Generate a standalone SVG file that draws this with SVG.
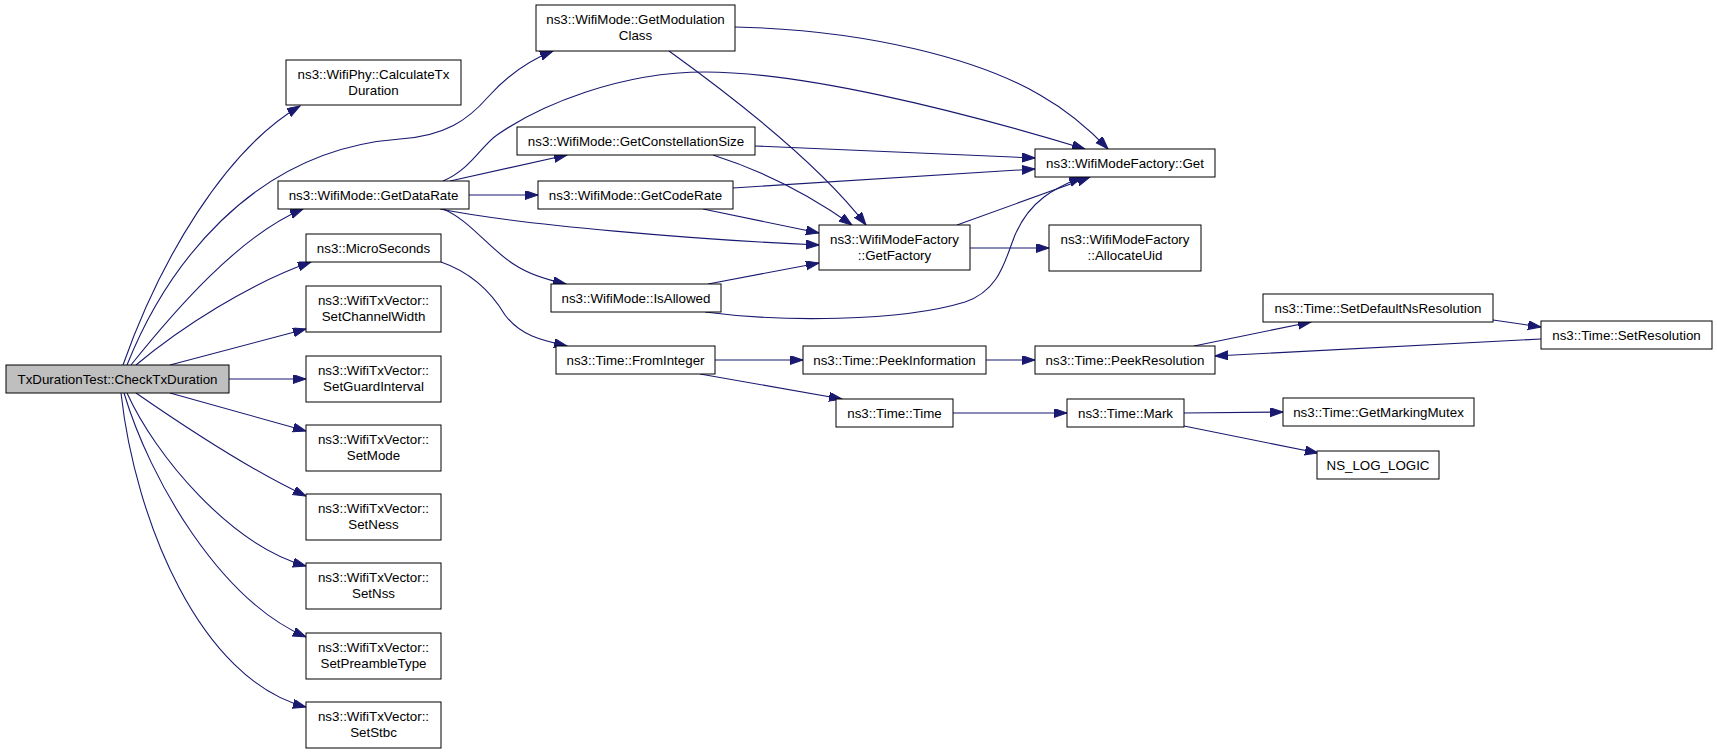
<svg xmlns="http://www.w3.org/2000/svg" width="1717" height="753" viewBox="0 0 1717 753">
<style>
.n rect{fill:#fff;stroke:#000;stroke-width:1}
.n.main rect{fill:#bfbfbf}
.n text{font-family:"Liberation Sans",Arial,sans-serif;font-size:13.33px;text-anchor:middle;fill:#000}
#edges path{fill:none;stroke:#191970;stroke-width:1.1;marker-end:url(#arr)}
</style>
<defs>
<marker id="arr" markerUnits="userSpaceOnUse" markerWidth="14" markerHeight="10" refX="13" refY="4.5" orient="auto">
<path d="M0,0 L13,4.5 L0,9 z" fill="#191970" stroke="#191970" stroke-width="1"/>
</marker>
</defs>
<rect width="1717" height="753" fill="#fff"/>
<g id="edges">
<path d="M123,365 C160,260 225,150 300,106"/>
<path d="M127,365 C165,270 250,150 400,139 C445,136 468,120 488,97 C505,78 525,62 553,51"/>
<path d="M131,365 C175,310 240,235 303,209"/>
<path d="M136,365 C180,328 250,283 311,262"/>
<path d="M170,365 L306,329"/>
<path d="M229,379 L306,379"/>
<path d="M170,393 L306,431"/>
<path d="M136,393 C175,420 250,470 306,496"/>
<path d="M127,393 C155,455 230,545 306,566"/>
<path d="M124,393 C150,480 220,600 306,637"/>
<path d="M121,393 C135,520 200,680 306,707"/>
<path d="M450,181 L567,155"/>
<path d="M443,181 C470,170 482,145 497,135 C540,105 620,72 705,72 C800,72 950,108 1085,149"/>
<path d="M469,195 L538,195"/>
<path d="M440,209 C520,225 700,240 819,245"/>
<path d="M443,209 C470,220 490,250 515,265 C530,275 548,280 566,284"/>
<path d="M735,27 C870,30 980,60 1040,95 C1070,112 1090,130 1108,149"/>
<path d="M669,51 C730,95 820,165 866,225"/>
<path d="M755,146 L1035,158"/>
<path d="M713,155 C760,170 810,195 852,225"/>
<path d="M733,188 L1035,169"/>
<path d="M703,209 L819,233"/>
<path d="M708,284 L819,263"/>
<path d="M705,312 C780,322 900,322 965,302 C1000,290 1005,260 1015,235 C1030,200 1055,188 1082,177"/>
<path d="M957,225 L1090,177"/>
<path d="M970,248 L1049,248"/>
<path d="M441,262 C470,272 490,290 505,315 C520,335 540,340 567,346"/>
<path d="M715,360 L803,360"/>
<path d="M700,374 L842,399"/>
<path d="M986,360 L1035,360"/>
<path d="M953,413 L1067,413"/>
<path d="M1194,346 L1311,322"/>
<path d="M1493,320 L1541,327"/>
<path d="M1541,339 L1215,356"/>
<path d="M1184,413 L1283,412"/>
<path d="M1184,426 L1318,453"/>
</g>
<g id="n_main" class="n main"><rect x="6" y="365" width="223" height="28"/><text x="117.5" y="383.5">TxDurationTest::CheckTxDuration</text></g>
<g id="n_calc" class="n"><rect x="286" y="60" width="175" height="45"/><text x="373.5" y="78.5">ns3::WifiPhy::CalculateTx</text><text x="373.5" y="95">Duration</text></g>
<g id="n_datarate" class="n"><rect x="278" y="181" width="191" height="28"/><text x="373.5" y="199.5">ns3::WifiMode::GetDataRate</text></g>
<g id="n_micro" class="n"><rect x="306" y="234" width="135" height="28"/><text x="373.5" y="252.5">ns3::MicroSeconds</text></g>
<g id="n_chw" class="n"><rect x="306" y="286" width="135" height="46"/><text x="373.5" y="304.5">ns3::WifiTxVector::</text><text x="373.5" y="321">SetChannelWidth</text></g>
<g id="n_gi" class="n"><rect x="306" y="356" width="135" height="46"/><text x="373.5" y="374.5">ns3::WifiTxVector::</text><text x="373.5" y="391">SetGuardInterval</text></g>
<g id="n_mode" class="n"><rect x="306" y="425" width="135" height="46"/><text x="373.5" y="443.5">ns3::WifiTxVector::</text><text x="373.5" y="460">SetMode</text></g>
<g id="n_ness" class="n"><rect x="306" y="494" width="135" height="46"/><text x="373.5" y="512.5">ns3::WifiTxVector::</text><text x="373.5" y="529">SetNess</text></g>
<g id="n_nss" class="n"><rect x="306" y="563" width="135" height="46"/><text x="373.5" y="581.5">ns3::WifiTxVector::</text><text x="373.5" y="598">SetNss</text></g>
<g id="n_pre" class="n"><rect x="306" y="633" width="135" height="46"/><text x="373.5" y="651.5">ns3::WifiTxVector::</text><text x="373.5" y="668">SetPreambleType</text></g>
<g id="n_stbc" class="n"><rect x="306" y="702" width="135" height="46"/><text x="373.5" y="720.5">ns3::WifiTxVector::</text><text x="373.5" y="737">SetStbc</text></g>
<g id="n_modclass" class="n"><rect x="536" y="5" width="199" height="46"/><text x="635.5" y="23.5">ns3::WifiMode::GetModulation</text><text x="635.5" y="40">Class</text></g>
<g id="n_const" class="n"><rect x="517" y="127" width="238" height="28"/><text x="636" y="145.5">ns3::WifiMode::GetConstellationSize</text></g>
<g id="n_coderate" class="n"><rect x="538" y="181" width="195" height="28"/><text x="635.5" y="199.5">ns3::WifiMode::GetCodeRate</text></g>
<g id="n_factory" class="n"><rect x="819" y="225" width="151" height="45"/><text x="894.5" y="243.5">ns3::WifiModeFactory</text><text x="894.5" y="260">::GetFactory</text></g>
<g id="n_isallowed" class="n"><rect x="551" y="284" width="170" height="28"/><text x="636" y="302.5">ns3::WifiMode::IsAllowed</text></g>
<g id="n_get" class="n"><rect x="1035" y="149" width="180" height="28"/><text x="1125" y="167.5">ns3::WifiModeFactory::Get</text></g>
<g id="n_alloc" class="n"><rect x="1049" y="225" width="152" height="46"/><text x="1125" y="243.5">ns3::WifiModeFactory</text><text x="1125" y="260">::AllocateUid</text></g>
<g id="n_fromint" class="n"><rect x="556" y="346" width="159" height="28"/><text x="635.5" y="364.5">ns3::Time::FromInteger</text></g>
<g id="n_peekinfo" class="n"><rect x="803" y="346" width="183" height="28"/><text x="894.5" y="364.5">ns3::Time::PeekInformation</text></g>
<g id="n_time" class="n"><rect x="836" y="399" width="117" height="28"/><text x="894.5" y="417.5">ns3::Time::Time</text></g>
<g id="n_peekres" class="n"><rect x="1035" y="346" width="180" height="28"/><text x="1125" y="364.5">ns3::Time::PeekResolution</text></g>
<g id="n_mark" class="n"><rect x="1067" y="399" width="117" height="28"/><text x="1125.5" y="417.5">ns3::Time::Mark</text></g>
<g id="n_setdef" class="n"><rect x="1263" y="294" width="230" height="28"/><text x="1378" y="312.5">ns3::Time::SetDefaultNsResolution</text></g>
<g id="n_setres" class="n"><rect x="1541" y="321" width="171" height="28"/><text x="1626.5" y="339.5">ns3::Time::SetResolution</text></g>
<g id="n_mutex" class="n"><rect x="1283" y="398" width="191" height="28"/><text x="1378.5" y="416.5">ns3::Time::GetMarkingMutex</text></g>
<g id="n_log" class="n"><rect x="1317" y="451" width="122" height="28"/><text x="1378" y="469.5">NS_LOG_LOGIC</text></g>
</svg>
